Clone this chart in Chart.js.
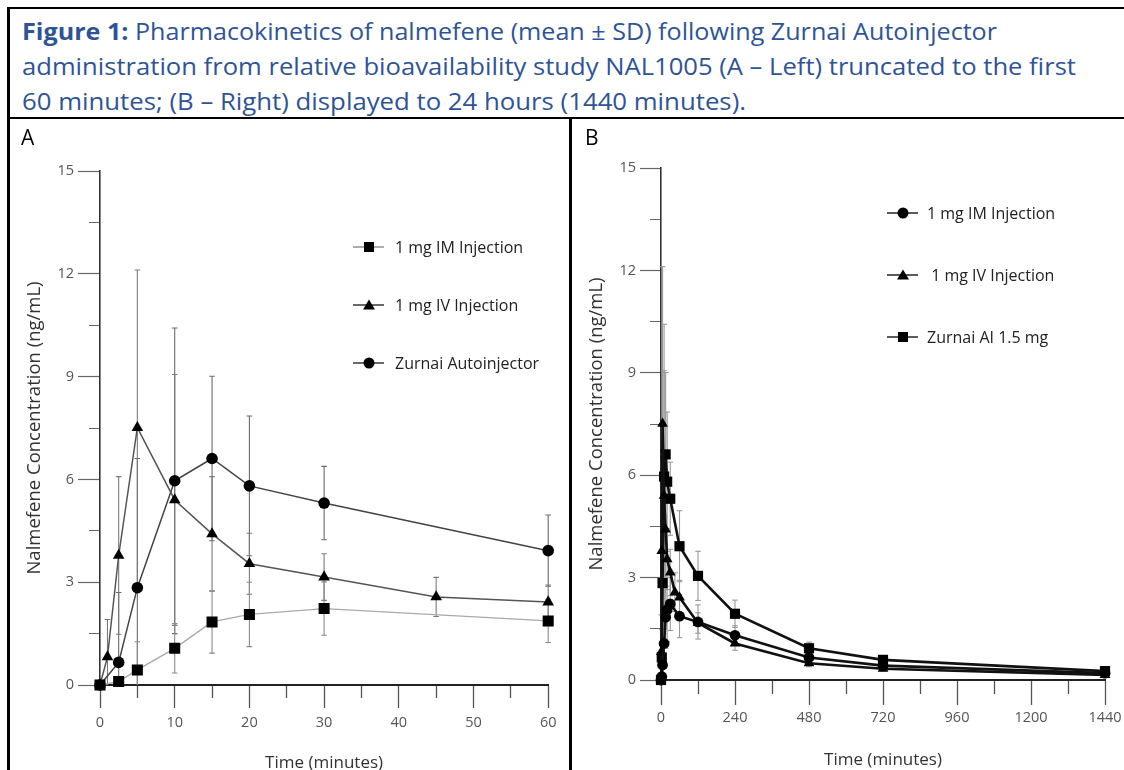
<!DOCTYPE html>
<html><head><meta charset="utf-8">
<script src="https://cdn.jsdelivr.net/npm/chart.js@4.4.1/dist/chart.umd.min.js"></script>
<style>
html,body{margin:0;padding:0;background:#fff;width:1124px;height:770px;overflow:hidden;position:relative;font-family:'Open Sans',sans-serif}
.ln{position:absolute;background:#000}
.hd{position:absolute;left:22px;white-space:nowrap;color:#2f5496;font-size:23px;line-height:30px;transform-origin:0 50%}
.pl{position:absolute;font-size:21px;color:#000;line-height:24px;z-index:3}
canvas{position:absolute}
.lg{position:absolute;font-size:16px;color:#222;white-space:nowrap;line-height:20px;height:20px;z-index:3}
.lg svg{position:absolute;left:0;top:2px}
.lg span{position:absolute;top:0}
</style></head><body>
<div class="ln" style="left:7px;top:7px;width:1117px;height:2px"></div>
<div class="ln" style="left:7px;top:7px;width:2.5px;height:763px"></div>
<div class="ln" style="left:7px;top:117px;width:1117px;height:2px"></div>
<div class="ln" style="left:569px;top:117px;width:2.5px;height:653px"></div>
<div class="hd" id="h1" data-w="975" style="top:16px"><b>Figure 1:</b> Pharmacokinetics of nalmefene (mean ± SD) following Zurnai Autoinjector</div>
<div class="hd" id="h2" data-w="1054" style="top:51px">administration from relative bioavailability study NAL1005 (A – Left) truncated to the first</div>
<div class="hd" id="h3" data-w="724" style="top:86px">60 minutes; (B – Right) displayed to 24 hours (1440 minutes).</div>
<div class="pl" style="left:21px;top:125px">A</div>
<div class="pl" style="left:585px;top:125px">B</div>
<canvas id="cA" width="546" height="660" style="left:10px;top:120px"></canvas>
<canvas id="cB" width="549" height="660" style="left:575px;top:120px"></canvas>
<div id="legA"></div><div id="legB"></div>
<script>
// ---- data (ng/mL, time in minutes) ----
const timesIM = [0, 2.5, 5, 10, 15, 20, 30, 60];
const imMean  = [0, 0.10, 0.44, 1.07, 1.84, 2.06, 2.23, 1.87];
const imSD    = [0, 0.10, 0.82, 0.72, 0.91, 0.94, 0.78, 0.63];
const timesIV = [0, 1, 2.5, 5, 10, 15, 20, 30, 45, 60];
const ivMean  = [0, 0.82, 3.78, 7.51, 5.40, 4.41, 3.54, 3.15, 2.57, 2.42];
const ivSD    = [0, 1.09, 2.30, 4.60, 3.66, 1.67, 0.89, 0.68, 0.57, 0.50];
const timesAI = [0, 2.5, 5, 10, 15, 20, 30, 60];
const aiMean  = [0, 0.66, 2.84, 5.96, 6.61, 5.81, 5.31, 3.92];
const aiSD    = [0, 2.04, 3.77, 4.46, 2.40, 2.04, 1.07, 1.04];
const lateTimes = [120, 240, 480, 720, 1440];
const imLate   = [1.70, 1.31, 0.66, 0.42, 0.20];
const imLateSD = [0.50, 0.28, 0.12, 0.08, 0.05];
const ivLate   = [1.67, 1.07, 0.49, 0.33, 0.15];
const ivLateSD = [0.30, 0.20, 0.10, 0.07, 0.04];
const aiLate   = [3.05, 1.94, 0.93, 0.59, 0.26];
const aiLateSD = [0.72, 0.40, 0.18, 0.10, 0.06];
const yTicks = [0, 3, 6, 9, 12, 15];
const xTicksA = [0, 10, 20, 30, 40, 50, 60];
const xTicksB = [0, 240, 480, 720, 960, 1200, 1440];
const labelsA = ['1 mg IM Injection', '1 mg IV Injection', 'Zurnai Autoinjector'];
const labelsB = ['1 mg IM Injection', ' 1 mg IV Injection', 'Zurnai AI 1.5 mg'];

// fit header lines
function fitHeader(){
  document.querySelectorAll('.hd').forEach(el=>{
    el.style.transform='none';
    const w = el.getBoundingClientRect().width;
    el.style.transform='scaleX('+(parseFloat(el.dataset.w)/w)+')';
  });
}
fitHeader();
if (document.fonts && document.fonts.ready) document.fonts.ready.then(fitHeader);

const pts = (t, v) => t.map((x, i) => ({x: x, y: v[i]}));
function errPts(t, m, s){
  const out = [];
  t.forEach((x, i) => { if (s[i] > 0) { out.push({x: x, y: m[i] - s[i]}, {x: x, y: m[i] + s[i]}, {x: x, y: null}); } });
  return out;
}
const isMult = (v, m) => Math.abs(v / m - Math.round(v / m)) < 1e-6;
const FONT = 'Open Sans';

function series(label, data, color, width, style, radius){
  return {label: label, data: data, showLine: true, borderColor: color, borderWidth: width,
    pointStyle: style, pointRadius: radius, pointBackgroundColor: '#000', pointBorderColor: '#000',
    pointBorderWidth: 0, clip: 14, tension: 0};
}
function errSet(data, color){
  return {label: 'err', data: data, showLine: true, spanGaps: false, borderColor: color, borderWidth: 1.1,
    pointStyle: 'line', pointRadius: 2.8, pointBorderColor: color, pointBorderWidth: 1.1,
    clip: {left: 10, top: 10, right: 10, bottom: 0}};
}

function makeChart(id, o, datasets){
  return new Chart(document.getElementById(id), {
    type: 'scatter',
    data: {datasets: datasets},
    options: {
      responsive: false, animation: false, events: [],
      layout: {padding: {left: 0, top: o.padTop, right: o.padRight, bottom: 0}},
      plugins: {legend: {display: false}, tooltip: {enabled: false}},
      scales: {
        x: {type: 'linear', min: 0, max: o.xMax, position: 'bottom',
          afterFit(s){ s.height = o.xH; s.paddingLeft = 0; s.paddingRight = 0; },
          ticks: {stepSize: o.xStep, autoSkip: false, maxRotation: 0, color: '#555',
            font: {family: FONT, size: 14.5}, padding: o.xPad,
            callback: v => (o.xLabels.some(l => Math.abs(l - v) < 1e-6) ? String(v) : '')},
          grid: {drawOnChartArea: false, tickLength: o.xTL, tickColor: '#555', tickWidth: 1.3,
            tickBorderDash: c => (c.tick && !o.xLabels.some(l => Math.abs(l - c.tick.value) < 1e-6)) ? [o.xTLm, 200] : []},
          border: {display: true, color: '#222', width: 2},
          title: {display: true, text: 'Time (minutes)', color: '#333', font: {family: FONT, size: 17},
            padding: {top: 0, bottom: o.xTitlePad}}
        },
        y: {type: 'linear', min: 0, max: 15, position: 'left',
          afterFit(s){ s.width = o.yW; s.paddingTop = 0; s.paddingBottom = 0; },
          ticks: {stepSize: 1.5, autoSkip: false, color: '#555', font: {family: FONT, size: 14.5}, padding: 4,
            callback: v => (yTicks.some(l => Math.abs(l - v) < 1e-6) ? String(Math.round(v)) : '')},
          grid: {drawOnChartArea: false, tickLength: o.yTL, tickColor: '#666', tickWidth: 1.2,
            tickBorderDash: c => (c.tick && !isMult(c.tick.value, 3)) ? [0, o.yTL - o.yTLm, o.yTLm, 0] : []},
          border: {display: true, color: '#333', width: 1.6},
          title: {display: true, text: 'Nalmefene Concentration (ng/mL)', color: '#333',
            font: {family: FONT, size: 18.5}, padding: {top: o.yTitlePad, bottom: 0}}
        }
      }
    }
  });
}

// Panel A (first 60 minutes)
makeChart('cA', {padTop: 51, padRight: 7, xMax: 60, xH: 95, xStep: 5, xLabels: xTicksA, xPad: 6, xTL: 23, xTLm: 12,
    xTitlePad: 7, yW: 90, yTL: 22, yTLm: 11, yTitlePad: 14}, [
  series(labelsA[0], pts(timesIM, imMean), '#a9a9a9', 1.3, 'rect', 7.8),
  series(labelsA[1], pts(timesIV, ivMean), '#555', 1.5, 'triangle', 6.7),
  series(labelsA[2], pts(timesAI, aiMean), '#444', 1.5, 'circle', 5.8),
  errSet(errPts(timesIM, imMean, imSD), '#8a8a8a'),
  errSet(errPts(timesIV, ivMean, ivSD), '#7a7a7a'),
  errSet(errPts(timesAI, aiMean, aiSD), '#6a6a6a')
]);

// Panel B (to 1440 minutes)
const tIMB = timesIM.concat(lateTimes), mIMB = imMean.concat(imLate), sIMB = imSD.concat(imLateSD);
const tIVB = timesIV.concat(lateTimes), mIVB = ivMean.concat(ivLate), sIVB = ivSD.concat(ivLateSD);
const tAIB = timesAI.concat(lateTimes), mAIB = aiMean.concat(aiLate), sAIB = aiSD.concat(aiLateSD);
makeChart('cB', {padTop: 48, padRight: 19, xMax: 1440, xH: 100, xStep: 120, xLabels: xTicksB, xPad: 4, xTL: 25, xTLm: 13,
    xTitlePad: 10, yW: 86, yTL: 21, yTLm: 11, yTitlePad: 11}, [
  series(labelsB[0], pts(tIMB, mIMB), '#111', 2.6, 'circle', 5.4),
  series(labelsB[1], pts(tIVB, mIVB), '#111', 2.6, 'triangle', 6.2),
  series(labelsB[2], pts(tAIB, mAIB), '#111', 2.6, 'rect', 7.2),
  errSet(errPts(tIMB, mIMB, sIMB), '#999'),
  errSet(errPts(tIVB, mIVB, sIVB), '#999'),
  errSet(errPts(tAIB, mAIB, sAIB), '#999')
]);

// Legends (HTML)
const sym = {
  rect: '<rect x="11" y="3" width="10" height="10" fill="#000"/>',
  triangle: '<polygon points="16,2.5 22,12.5 10,12.5" fill="#000"/>',
  circle: '<circle cx="16" cy="8" r="5.5" fill="#000"/>'
};
function legend(hostId, lineX, textX, rows, items){
  const host = document.getElementById(hostId);
  items.forEach((it, i) => {
    const d = document.createElement('div');
    d.className = 'lg';
    d.style.left = lineX + 'px';
    d.style.top = (rows[i] - 10) + 'px';
    d.innerHTML = '<svg width="34" height="16"><line x1="0" y1="8" x2="31" y2="8" stroke="' + it.c + '" stroke-width="1.6"/>' +
      sym[it.s] + '</svg><span style="left:' + (textX - lineX) + 'px">' + it.t + '</span>';
    host.appendChild(d);
  });
}
legend('legA', 353, 395, [247, 305, 363], [
  {t: labelsA[0], s: 'rect', c: '#999'}, {t: labelsA[1], s: 'triangle', c: '#444'}, {t: labelsA[2], s: 'circle', c: '#444'}]);
legend('legB', 887, 927, [213, 275, 337], [
  {t: labelsB[0], s: 'circle', c: '#333'}, {t: '&nbsp;1 mg IV Injection', s: 'triangle', c: '#333'}, {t: labelsB[2], s: 'rect', c: '#333'}]);
</script>
</body></html>
